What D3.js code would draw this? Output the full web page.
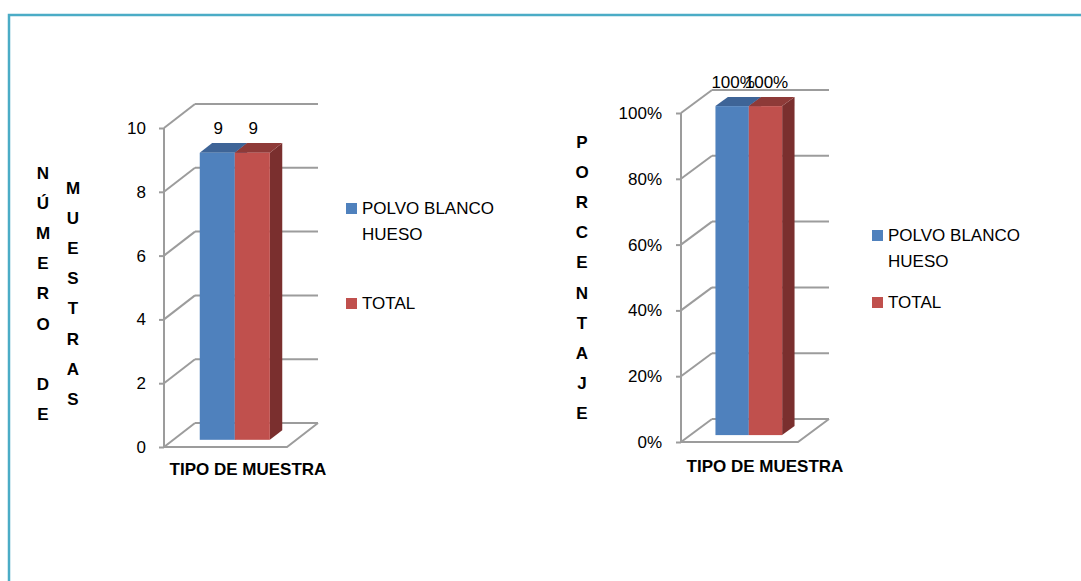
<!DOCTYPE html>
<html>
<head>
<meta charset="utf-8">
<script src="https://cdn.jsdelivr.net/npm/d3@7"></script>
<style>
  body { margin: 0; background: #fff; }
  text { font-family: "Liberation Sans", Arial, sans-serif; fill: #000; }
</style>
</head>
<body>
<svg id="chart" width="1081" height="581"></svg>
<script>
// data
const series = ["POLVO BLANCO HUESO", "TOTAL"];
const seriesColors = ["#4f81bd", "#c0504d"];
const topColors = ["#3e6497", "#8e3a38"];
const sideColors = ["#385a88", "#7a2f2e"];
const legendLines = [["POLVO BLANCO", "HUESO"], ["TOTAL"]];

const countValues = [9, 9];
const countTicks = [0, 2, 4, 6, 8, 10];
const countTitleCols = ["NÚMERO DE", "MUESTRAS"];

const pctValues = [1, 1];
const pctTicks = [0, 0.2, 0.4, 0.6, 0.8, 1];
const pctTitleCols = ["PORCENTAJE"];

const xTitle = "TIPO DE MUESTRA";

var svg = d3.select("#chart");
const width = +svg.attr("width");
const height = +svg.attr("height");

const gridColor = "#9c9c9c";
const barFront = 0.3;   // how far into the box the bars sit
const barDepth = 0.4;   // depth of a bar as a share of the box depth

// teal frame round the whole thing (runs off right and bottom)
svg.append("path")
    .attr("d", "M9," + height + " L9,15 L" + width + ",15")
    .attr("fill", "none")
    .attr("stroke", "#4bacc6")
    .attr("stroke-width", 2.5);

const drawChart = (cfg) => {
    const g = svg.append("g");
    const yScale = d3.scaleLinear()
        .domain([0, cfg.ticks[cfg.ticks.length - 1]])
        .range([cfg.y0, cfg.yTop]);
    const dx = cfg.dx, dy = cfg.dy;
    const x0 = cfg.x0, x1 = cfg.x1;

    // back wall gridlines + side wall diagonals
    cfg.ticks.forEach((t) => {
        let y = yScale(t);
        g.append("line")
            .attr("x1", x0 + dx).attr("y1", y + dy)
            .attr("x2", x1 + dx).attr("y2", y + dy)
            .attr("stroke", gridColor).attr("stroke-width", 2);
        g.append("line")
            .attr("x1", x0).attr("y1", y)
            .attr("x2", x0 + dx).attr("y2", y + dy)
            .attr("stroke", gridColor).attr("stroke-width", 2);
    });

    // floor front edge and right edge
    g.append("polyline")
        .attr("points", [[x0, cfg.y0], [x1, cfg.y0], [x1 + dx, cfg.y0 + dy]].join(" "))
        .attr("fill", "none")
        .attr("stroke", gridColor).attr("stroke-width", 2);

    // y axis with d3 ticks
    var leftAxis = d3.axisLeft(yScale)
        .tickValues(cfg.ticks)
        .tickSize(5)
        .tickPadding(cfg.tickPad)
        .tickFormat(cfg.fmt);
    var axisG = g.append("g")
        .attr("transform", "translate(" + x0 + ",0)")
        .call(leftAxis);
    axisG.selectAll("path, line").attr("stroke", gridColor).attr("stroke-width", 2);
    axisG.select(".domain").attr("d", "M0," + cfg.y0 + "V" + cfg.yTop);
    axisG.selectAll("text")
        .style("font-size", "17px")
        .style("font-family", "'Liberation Sans', Arial, sans-serif")
        .attr("fill", "#000");

    // bars
    const frameW = x1 - x0;
    const pad = frameW * 0.215;
    const xScale = d3.scaleBand()
        .domain(series)
        .range([x0 + barFront * dx + pad, x1 + barFront * dx - pad]);
    const bdx = barDepth * dx, bdy = barDepth * dy;

    series.forEach((s, i) => {
        let v = cfg.values[i];
        let left = xScale(s), right = left + xScale.bandwidth();
        let top = yScale(v) + barFront * dy;
        let bottom = yScale(0) + barFront * dy;

        g.append("polygon")
            .attr("points", [[right, top], [right + bdx, top + bdy], [right + bdx, bottom + bdy], [right, bottom]].join(" "))
            .attr("fill", sideColors[i]);
        g.append("polygon")
            .attr("points", [[left, top], [right, top], [right + bdx, top + bdy], [left + bdx, top + bdy]].join(" "))
            .attr("fill", topColors[i]);
        g.append("rect")
            .attr("x", left).attr("y", top)
            .attr("width", right - left).attr("height", bottom - top)
            .attr("fill", seriesColors[i]);

        g.append("text")
            .attr("x", (left + right) / 2 + 1)
            .attr("y", top + bdy - 9)
            .attr("text-anchor", "middle")
            .style("font-size", "17px")
            .text(cfg.fmt(v));
    });

    // x title
    g.append("text")
        .attr("x", cfg.xTitleX).attr("y", cfg.xTitleY)
        .attr("text-anchor", "middle")
        .attr("dominant-baseline", "central")
        .style("font-size", "17px").style("font-weight", "bold")
        .text(xTitle);

    // y title, one letter per line, in columns
    cfg.titleCols.forEach((col, c) => {
        Array.from(col).forEach((ch, k) => {
            if (ch === " ") return;
            g.append("text")
                .attr("x", cfg.titleX[c])
                .attr("y", cfg.titleY[c] + k * 30.2)
                .attr("text-anchor", "middle")
                .attr("dominant-baseline", "central")
                .style("font-size", "17px").style("font-weight", "bold")
                .text(ch);
        });
    });

    // legend
    series.forEach((s, i) => {
        let ly = cfg.legendY[i];
        g.append("rect")
            .attr("x", cfg.legendX).attr("y", ly)
            .attr("width", 11).attr("height", 11)
            .attr("fill", seriesColors[i]);
        legendLines[i].forEach((line, k) => {
            g.append("text")
                .attr("x", cfg.legendX + 16)
                .attr("y", ly + 5.5 + k * 26)
                .attr("dominant-baseline", "central")
                .style("font-size", "17px")
                .text(line);
        });
    });
};

drawChart({
    values: countValues, ticks: countTicks, fmt: d3.format("d"),
    x0: 164, x1: 287, y0: 447, yTop: 128, dx: 31, dy: -24, tickPad: 13,
    xTitleX: 248, xTitleY: 469,
    titleCols: countTitleCols, titleX: [43, 73], titleY: [173, 188],
    legendX: 346, legendY: [203, 298]
});

drawChart({
    values: pctValues, ticks: pctTicks, fmt: d3.format(".0%"),
    x0: 681, x1: 798, y0: 442, yTop: 113, dx: 31, dy: -23, tickPad: 14,
    xTitleX: 765, xTitleY: 466,
    titleCols: pctTitleCols, titleX: [582], titleY: [142],
    legendX: 872, legendY: [230, 297]
});
</script>
</body>
</html>
